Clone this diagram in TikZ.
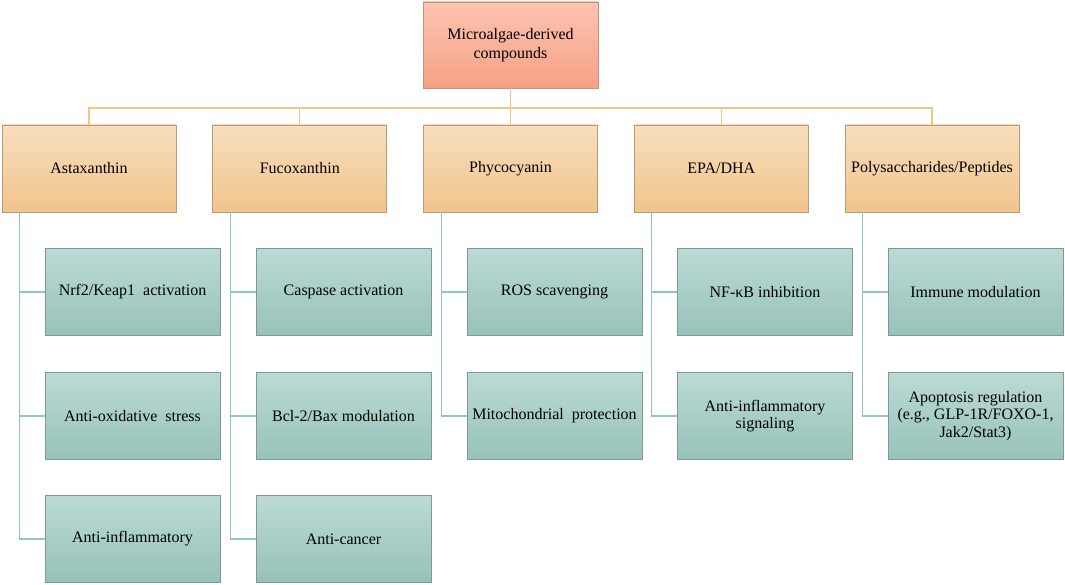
\documentclass[tikz,border=0pt]{standalone}
\usepackage{fontspec}
\setmainfont{Liberation Serif}
\definecolor{roottop}{HTML}{FCC4B2}
\definecolor{rootbot}{HTML}{F6A085}
\definecolor{rootedge}{HTML}{C4907F}
\definecolor{grouptop}{HTML}{F7DEBD}
\definecolor{groupbot}{HTML}{F2C48D}
\definecolor{groupedge}{HTML}{B99A74}
\definecolor{itemtop}{HTML}{BCDAD5}
\definecolor{itembot}{HTML}{96C2BA}
\definecolor{itemedge}{HTML}{7F9A96}
\definecolor{busgold}{HTML}{EEC97F}
\definecolor{stemteal}{HTML}{8FC7C1}
\tikzset{
    box/.style={draw,line width=0.8pt,inner sep=2pt,align=center,
        font=\fontsize{16}{19}\selectfont},
    rootbox/.style={box,draw=rootedge,top color=roottop,bottom color=rootbot,
        minimum width=175pt,minimum height=86pt},
    groupbox/.style={box,draw=groupedge,top color=grouptop,bottom color=groupbot,
        minimum width=174pt,minimum height=87pt},
    itembox/.style={box,draw=itemedge,top color=itemtop,bottom color=itembot,
        minimum width=175pt,minimum height=87pt,font=\fontsize{16}{17.5}\selectfont},
    busline/.style={draw=busgold,line width=1.2pt},
    stemline/.style={draw=stemteal,line width=1.2pt}
}
\begin{document}
\begin{tikzpicture}[x=1pt,y=-1pt]
\useasboundingbox (0,0) rectangle (1065,585);
\node[rootbox] (root) at (510.5,45) {Microalgae-derived\\compounds};
\coordinate (bus) at (0,108);
\foreach \i/\txt in {1/Astaxanthin,2/Fucoxanthin,3/Phycocyanin,4/{EPA/DHA},5/{Polysaccharides/Peptides}}
  {\node[groupbox] (g\i) at ({89+210.75*(\i-1)},168.5) {\txt};
   \draw[busline] (root.south) -- (root.south |- bus) -| (g\i.north);}
% first column
\node[itembox] (a1) at (132.5,292) {Nrf2/Keap1~~activation};
\node[itembox] (a2) at (132.5,416) {Anti-oxidative~~stress};
\node[itembox] (a3) at (132.5,539) {Anti-inflammatory};
% second column
\node[itembox] (b1) at (343.5,292) {Caspase activation};
\node[itembox] (b2) at (343.5,416) {Bcl-2/Bax modulation};
\node[itembox] (b3) at (343.5,539) {Anti-cancer};
% third column
\node[itembox] (c1) at (554.5,292) {ROS scavenging};
\node[itembox] (c2) at (554.5,416) {Mitochondrial~~protection};
% fourth column
\node[itembox] (d1) at (765,292) {NF-κB inhibition};
\node[itembox] (d2) at (765,416) {Anti-inflammatory\\signaling};
% fifth column
\node[itembox] (e1) at (975.5,292) {Immune modulation};
\node[itembox] (e2) at (975.5,416) {Apoptosis regulation\\(e.g., GLP-1R/FOXO-1,\\Jak2/Stat3)};
\foreach \g/\n in {g1/a1,g1/a2,g1/a3,g2/b1,g2/b2,g2/b3,g3/c1,g3/c2,g4/d1,g4/d2,g5/e1,g5/e2}
  \draw[stemline] ([xshift=18pt]\g.south west) |- (\n.west);
\end{tikzpicture}
\end{document}
